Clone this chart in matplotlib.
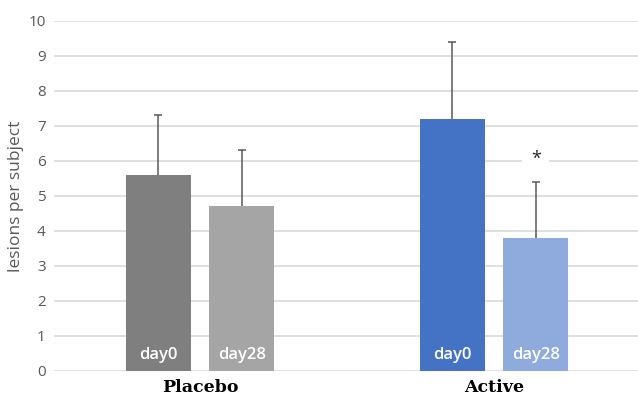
import matplotlib.pyplot as plt

groups = ['Placebo', 'Active']
days = ['day0', 'day28']
means = {'day0': [5.6, 7.2], 'day28': [4.7, 3.8]}
upper = {'day0': [7.3, 9.4], 'day28': [6.3, 5.4]}
colors = {'day0': ['#7f7f7f', '#4472c4'], 'day28': ['#a5a5a5', '#8faadc']}
star_value = 6.05

plt.rcParams['font.family'] = ['Open Sans', 'DejaVu Sans']

fig = plt.figure(figsize=(6.38, 3.97), dpi=100)
ax = fig.add_axes([54 / 638, 1 - 370.7 / 397, 1 - 54 / 638, (370.7 - 21) / 397])

width = 0.221
offset = 0.142
for j, d in enumerate(days):
    for i, g in enumerate(groups):
        x = i + (offset if j else -offset)
        ax.bar(x, means[d][i], width, color=colors[d][i], zorder=3)
        eb = ax.errorbar(x, means[d][i], yerr=[[0], [upper[d][i] - means[d][i]]],
                         fmt='none', ecolor='#595959', elinewidth=1.1, capsize=3,
                         capthick=1.1, zorder=4)
        # only the upper cap
        eb[1][0].set_visible(False)
        ax.text(x, 0.45, d, color='white', ha='center', va='center',
                fontsize=12, fontweight='semibold', zorder=5)

# significance marker over Active day28
ax.text(1 + offset, star_value, '*', ha='center', va='center', fontsize=13,
        color='#262626', zorder=5,
        bbox=dict(facecolor='white', edgecolor='none', pad=6))

ax.set_xlim(-0.497, 1.49)
ax.set_ylim(0, 10)
ax.set_yticks(range(0, 11))
ax.yaxis.grid(True, color='#d9d9d9', linewidth=1.2, zorder=0)
ax.set_axisbelow(True)
for s in ax.spines.values():
    s.set_visible(False)
ax.tick_params(axis='y', length=0, labelsize=11, labelcolor='#595959', pad=6)
ax.set_xticks([0, 1])
ax.set_xticklabels(groups, fontsize=12.5, fontweight='bold',
                   family=['DejaVu Serif'], color='black')
ax.tick_params(axis='x', length=0, pad=6)
ax.set_ylabel('lesions per subject', fontsize=12.5, color='#595959', labelpad=3)

fig.savefig('out.png', dpi=100)
